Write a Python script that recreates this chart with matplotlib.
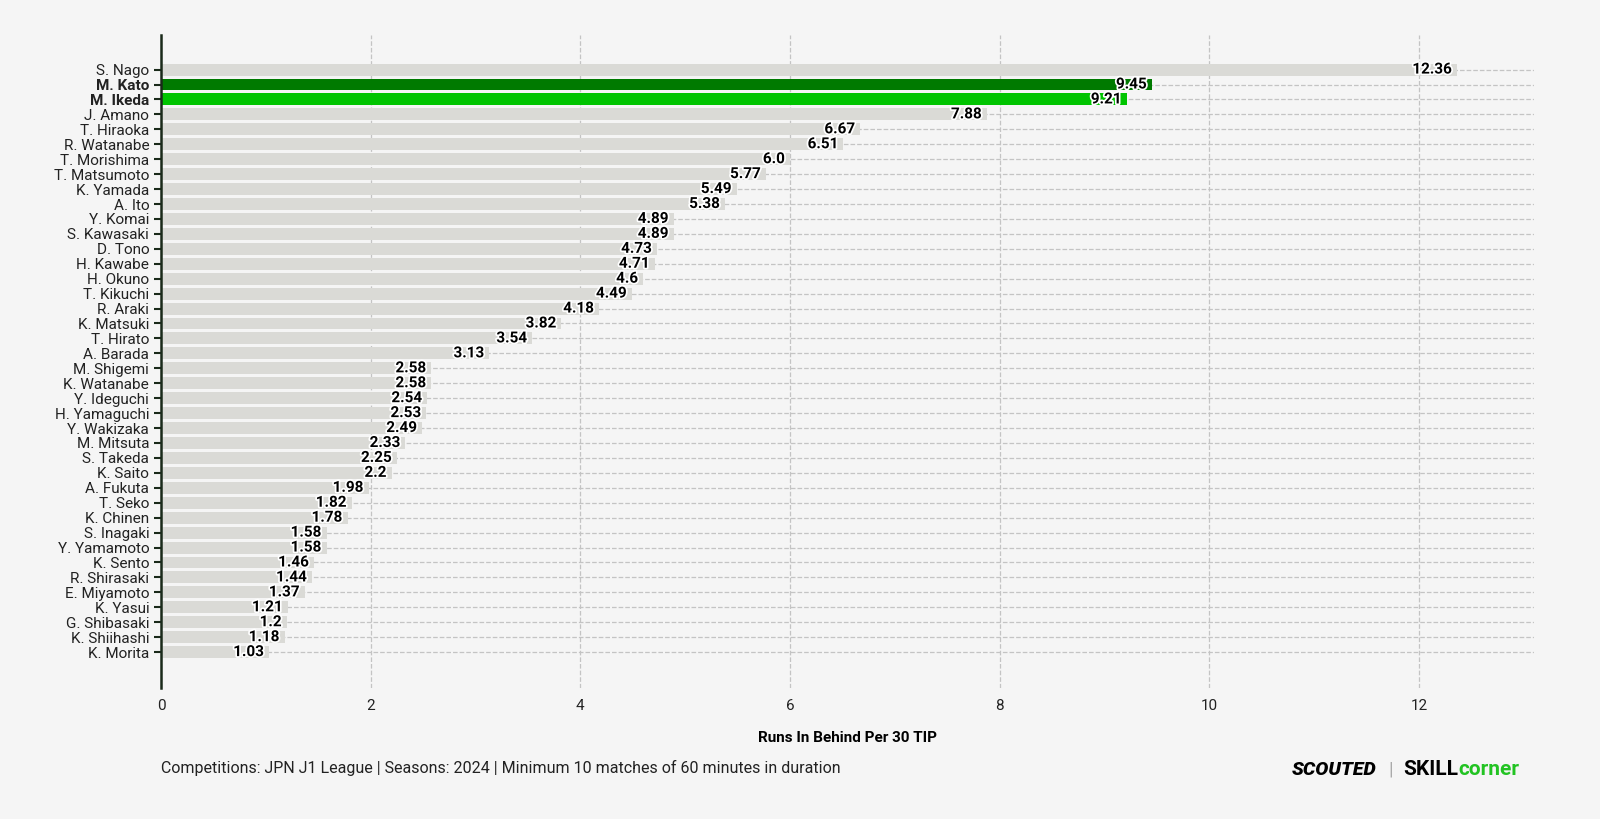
import matplotlib.pyplot as plt
import matplotlib.patheffects as pe

names = ["S. Nago", "M. Kato", "M. Ikeda", "J. Amano", "T. Hiraoka", "R. Watanabe",
         "T. Morishima", "T. Matsumoto", "K. Yamada", "A. Ito", "Y. Komai", "S. Kawasaki",
         "D. Tono", "H. Kawabe", "H. Okuno", "T. Kikuchi", "R. Araki", "K. Matsuki",
         "T. Hirato", "A. Barada", "M. Shigemi", "K. Watanabe", "Y. Ideguchi",
         "H. Yamaguchi", "Y. Wakizaka", "M. Mitsuta", "S. Takeda", "K. Saito", "A. Fukuta",
         "T. Seko", "K. Chinen", "S. Inagaki", "Y. Yamamoto", "K. Sento", "R. Shirasaki",
         "E. Miyamoto", "K. Yasui", "G. Shibasaki", "K. Shiihashi", "K. Morita"]
values = [12.36, 9.45, 9.21, 7.88, 6.67, 6.51, 6.0, 5.77, 5.49, 5.38, 4.89, 4.89,
          4.73, 4.71, 4.6, 4.49, 4.18, 3.82, 3.54, 3.13, 2.58, 2.58, 2.54, 2.53, 2.49,
          2.33, 2.25, 2.2, 1.98, 1.82, 1.78, 1.58, 1.58, 1.46, 1.44, 1.37, 1.21, 1.2,
          1.18, 1.03]
highlight = {"M. Kato": "#007a00", "M. Ikeda": "#00c400"}

plt.rcParams['font.family'] = ['Roboto', 'DejaVu Sans']
bg = "#f5f5f5"

fig = plt.figure(figsize=(16, 8.19), dpi=100, facecolor=bg)
ax = fig.add_axes([0.1006, 0.16, 0.8584, 0.797])
ax.set_facecolor(bg)

ypos = list(range(len(names)))
colors = [highlight.get(n, "#dadad6") for n in names]
ax.barh(ypos, values, height=0.8, color=colors, zorder=2)

for y, v in zip(ypos, values):
    ax.text(v - 0.05, y, str(v), ha='right', va='center', fontsize=11, fontweight='bold',
            color='black', zorder=3,
            path_effects=[pe.withStroke(linewidth=2.5, foreground='white')])

ax.set_yticks(ypos)
ax.set_yticklabels(names, fontsize=11, color="#222222")
for lbl in ax.get_yticklabels():
    if lbl.get_text() in highlight:
        lbl.set_fontweight('bold')
ax.set_ylim(len(names) + 1.4, -2.3)
ax.set_xlim(0, 13.1)
ax.set_xticks([0, 2, 4, 6, 8, 10, 12])
ax.set_xticklabels(["0", "2", "4", "6", "8", "10", "12"], fontsize=11, color="#222222")
ax.tick_params(axis='x', length=0, pad=8)
ax.tick_params(axis='y', length=5, width=1.5, color="#1a2a1a")

ax.grid(True, axis='both', linestyle='--', color="#c4c4c4", linewidth=0.9, zorder=0)
ax.set_axisbelow(True)
for s in ['top', 'right', 'bottom']:
    ax.spines[s].set_visible(False)
ax.spines['left'].set_color("#1a2a1a")
ax.spines['left'].set_linewidth(1.8)

ax.set_xlabel("Runs In Behind Per 30 TIP", fontsize=11, fontweight='bold', labelpad=13)

fig.text(0.1006, 0.062, "Competitions: JPN J1 League | Seasons: 2024 | Minimum 10 matches of 60 minutes in duration",
         fontsize=11.5, color="#222222", va='center')

# logo, chained left to right
renderer = fig.canvas.get_renderer()
x0 = 1292
parts = [("SCOUTED", dict(fontsize=14, fontweight='heavy', fontstyle='italic', color='black'), 12),
         ("|", dict(fontsize=14, color="#aaaaaa"), 10),
         ("SKILL", dict(fontsize=15, fontweight='bold', color='black'), 0),
         ("corner", dict(fontsize=15, fontweight='bold', color='#22c322'), 0)]
for txt, kw, gap in parts:
    t = fig.text(x0 / 1600, 0.06, txt, va='center', **kw)
    bb = t.get_window_extent(renderer)
    x0 = bb.x1 + gap

fig.savefig("out.png", dpi=100, facecolor=bg)
